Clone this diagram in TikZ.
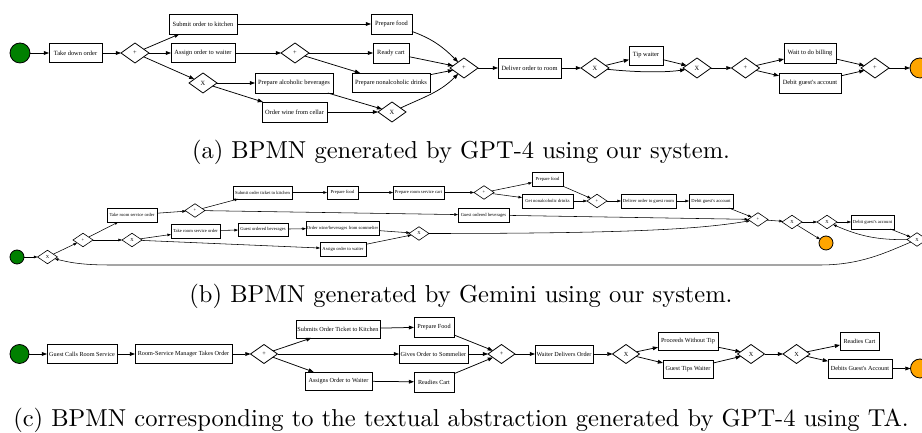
\documentclass[tikz,border=0pt]{standalone}
\usepackage{fontspec}
\newfontfamily\bpfont{Liberation Serif}
\usetikzlibrary{shapes.geometric,arrows.meta}
\definecolor{bpgreen}{HTML}{008000}
\definecolor{bporange}{HTML}{FFA500}
\begin{document}
\begin{tikzpicture}[x=1pt,y=1pt,
  every node/.style={inner sep=0pt, outer sep=0pt},
  task/.style 2 args={draw, line width=0.9pt, rectangle, fill=white, minimum width=#1pt, minimum height=#2pt, align=center},
  gwa/.style={draw, line width=0.8pt, diamond, fill=white, minimum width=28pt, minimum height=20pt},
  gwb/.style={draw, line width=0.6pt, diamond, fill=white, minimum width=20pt, minimum height=13.5pt},
  gwc/.style={draw, line width=0.8pt, diamond, fill=white, minimum width=27pt, minimum height=19pt},
  startev/.style={circle, draw, line width=0.8pt, fill=bpgreen, minimum size=#1},
  endev/.style={circle, draw, line width=0.8pt, fill=bporange, minimum size=#1},
  arrA/.style={draw, line width=0.75pt, -{Triangle[length=5.2pt,width=3.8pt]}},
  arrB/.style={draw, line width=0.55pt, -{Triangle[length=3.6pt,width=2.6pt]}},
  capt/.style={font=\normalsize}
]
\useasboundingbox (0,0) rectangle (922,433);
\fill[white] (0,0) rectangle (922,433);

% ---------------- (a)
\begin{scope}[every node/.append style={font=\bpfont\fontsize{6.4}{7}\selectfont}]
\node[startev=20pt] (sa) at (20,380) {};
\node[task={53}{19}] (tdo) at (75.5,380) {Take down order};
\node[gwa] (ag1) at (135,380) {+};
\node[task={68}{20}] (sok) at (203,409) {Submit order to kitchen};
\node[task={64}{19}] (aow) at (203,380) {Assign order to waiter};
\node[gwa] (ag2) at (295,380) {+};
\node[gwa] (ax1) at (203,350) {X};
\node[task={78}{20}] (pab) at (294,350) {Prepare alcoholic beverages};
\node[task={65}{20}] (owc) at (294.5,321) {Order wine from cellar};
\node[task={41}{20}] (pf) at (391.5,409) {Prepare food};
\node[task={36}{20}] (rc) at (391,380) {Ready cart};
\node[task={78}{19}] (pnd) at (391,350.5) {Prepare nonalcoholic drinks};
\node[gwa] (axj) at (392,321) {X};
\node[gwa] (agj) at (464,365) {+};
\node[task={63}{20}] (dor) at (529.5,365) {Deliver order to room};
\node[gwa] (axg1) at (595,365) {X};
\node[task={34}{19}] (tw) at (646,377.5) {Tip waiter};
\node[gwa] (axg2) at (697,365) {X};
\node[gwa] (agp) at (745.5,365) {+};
\node[task={52}{20}] (wtb) at (810,380) {Wait to do billing};
\node[task={62}{20}] (dga) at (810,350) {Debit guest's account};
\node[gwa] (agpj) at (875,365) {+};
\node[endev=20pt] (ea) at (920,365) {};

\draw[arrA] (sa) -- (tdo);
\draw[arrA] (tdo) -- (ag1);
\draw[arrA] (ag1) -- (sok);
\draw[arrA] (ag1) -- (aow);
\draw[arrA] (ag1) -- (ax1);
\draw[arrA] (sok) -- (pf);
\draw[arrA] (aow) -- (ag2);
\draw[arrA] (ag2) -- (rc);
\draw[arrA] (ag2) -- (pnd);
\draw[arrA] (ax1) -- (pab);
\draw[arrA] (ax1) -- (owc);
\draw[arrA] (pab) -- (axj);
\draw[arrA] (owc) -- (axj);
\draw[arrA] (pf) to[out=-20,in=135] (agj);
\draw[arrA] (rc) -- (agj);
\draw[arrA] (pnd) -- (agj);
\draw[arrA] (axj) to[out=25,in=-135] (agj);
\draw[arrA] (agj) -- (dor);
\draw[arrA] (dor) -- (axg1);
\draw[arrA] (axg1) -- (tw);
\draw[arrA] (axg1) to[out=-6,in=-172,looseness=0.8] (axg2);
\draw[arrA] (tw) -- (axg2);
\draw[arrA] (axg2) -- (agp);
\draw[arrA] (agp) -- (wtb);
\draw[arrA] (agp) -- (dga);
\draw[arrA] (wtb) -- (agpj);
\draw[arrA] (dga) -- (agpj);
\draw[arrA] (agpj) -- (ea);
\end{scope}

% ---------------- (b)
\begin{scope}[every node/.append style={font=\bpfont\fontsize{4.6}{5}\selectfont}]
\node[startev=14pt] (sb) at (17,176) {};
\node[gwb] (bx1) at (47.5,176) {X};
\node[gwb] (bp1) at (83,193) {+};
\node[task={50}{14}] (trso1) at (132,218) {Take room service order};
\node[gwb] (bp2) at (195,222.5) {+};
\node[task={59}{13}] (sotk) at (262.5,240.5) {Submit order ticket to kitchen};
\node[gwb] (bx2) at (132,193) {X};
\node[task={49}{14}] (trso2) at (195.5,202) {Take room service order};
\node[task={50}{13}] (gob1) at (263,203.5) {Guest ordered beverages};
\node[task={73}{14}] (owbs) at (342.5,205) {Order wine/beverages from sommelier};
\node[task={31}{13}] (pf1) at (342.5,240.5) {Prepare food};
\node[task={51}{13}] (prsc) at (418.5,240.5) {Prepare room service cart};
\node[gwb] (bp3) at (484,240.5) {+};
\node[task={31}{14}] (pf2) at (547.5,253.5) {Prepare food};
\node[task={51}{14}] (gnd) at (547.5,232) {Get nonalcoholic drinks};
\node[gwb] (bp4) at (597,232) {+};
\node[task={51}{14}] (gob2) at (483.5,218) {Guest ordered beverages};
\node[gwb] (bx3) at (419,199.5) {X};
\node[task={46}{14}] (aow2) at (343,184) {Assign order to waiter};
\node[task={55}{14}] (dogr) at (648.5,232) {Deliver order to guest room};
\node[task={44}{14}] (dga1) at (711,232) {Debit guest's account};
\node[gwb] (bp5) at (758,213.5) {+};
\node[gwb] (bx4) at (792,211) {X};
\node[gwb] (bx5) at (827,211) {X};
\node[task={43}{14}] (dga2) at (872.5,211) {Debit guest's account};
\node[gwb] (bx6) at (917,193.5) {X};
\node[endev=14pt] (eb) at (826,190) {};

\draw[arrB] (sb) -- (bx1);
\draw[arrB] (bx1) -- (bp1);
\draw[arrB] (bp1) -- (trso1);
\draw[arrB] (bp1) -- (bx2);
\draw[arrB] (trso1) -- (bp2);
\draw[arrB] (bp2) -- (sotk);
\draw[arrB] (bp2) -- (gob2);
\draw[arrB] (sotk) -- (pf1);
\draw[arrB] (pf1) -- (prsc);
\draw[arrB] (prsc) -- (bp3);
\draw[arrB] (bp3) -- (pf2);
\draw[arrB] (bp3) -- (gnd);
\draw[arrB] (pf2) -- (bp4);
\draw[arrB] (gnd) -- (bp4);
\draw[arrB] (bp4) -- (dogr);
\draw[arrB] (dogr) -- (dga1);
\draw[arrB] (dga1) -- (bp5);
\draw[arrB] (gob2) -- (bp5);
\draw[arrB] (bx2) -- (trso2);
\draw[arrB] (bx2) -- (aow2);
\draw[arrB] (trso2) -- (gob1);
\draw[arrB] (gob1) -- (owbs);
\draw[arrB] (owbs) -- (bx3);
\draw[arrB] (aow2) -- (bx3);
\draw[arrB] (bx3) .. controls (650,199.5) and (705,205) .. (bp5);
\draw[arrB] (bp5) -- (bx4);
\draw[arrB] (bx4) -- (bx5);
\draw[arrB] (bx4) -- (eb);
\draw[arrB] (bx5) -- (dga2);
\draw[arrB] (dga2) -- (bx6);
\draw[arrB] (bx6) to[bend left=12] (bx5);
\draw[arrB] (bx6) .. controls (885,180) and (860,168) .. (820,168) -- (110,168) .. controls (80,168) and (68,171) .. (bx1);
\end{scope}

% ---------------- (c)
\begin{scope}[every node/.append style={font=\bpfont\fontsize{6.2}{7}\selectfont}]
\node[startev=19pt] (sc) at (19.5,79) {};
\node[task={70}{19}] (gcrs) at (82,79) {Guest Calls Room Service};
\node[task={97}{19}] (rsmt) at (183.5,79) {Room-Service Manager Takes Order};
\node[gwc] (cp1) at (264,79) {+};
\node[task={84}{18}] (sotk3) at (338,104) {Submits Order Ticket to Kitchen};
\node[task={67}{18}] (aow3) at (338.5,52) {Assigns Order to Waiter};
\node[task={69}{18}] (gos) at (433.5,79) {Gives Order to Sommelier};
\node[task={40}{20}] (pf3) at (434,106) {Prepare Food};
\node[task={40}{20}] (rc3) at (434,51) {Readies Cart};
\node[gwc] (cpj) at (501.5,79) {+};
\node[task={58}{18}] (wdo) at (564,79) {Waiter Delivers Order};
\node[gwc] (cx1) at (626,79) {X};
\node[task={60}{18}] (pwt) at (688,92) {Proceeds Without Tip};
\node[task={50}{18}] (gtw) at (688,64) {Guest Tips Waiter};
\node[gwc] (cx2) at (751,79) {X};
\node[gwc] (cx3) at (796.5,79) {X};
\node[task={39}{18}] (rc4) at (859.5,92) {Readies Cart};
\node[task={64}{19}] (dgacc) at (860,64.5) {Debits Guest's Account};
\node[endev=19pt] (ec) at (920,64.5) {};

\draw[arrA] (sc) -- (gcrs);
\draw[arrA] (gcrs) -- (rsmt);
\draw[arrA] (rsmt) -- (cp1);
\draw[arrA] (cp1) -- (sotk3);
\draw[arrA] (cp1) -- (gos);
\draw[arrA] (cp1) -- (aow3);
\draw[arrA] (sotk3) -- (pf3);
\draw[arrA] (aow3) -- (rc3);
\draw[arrA] (pf3) -- (cpj);
\draw[arrA] (gos) -- (cpj);
\draw[arrA] (rc3) -- (cpj);
\draw[arrA] (cpj) -- (wdo);
\draw[arrA] (wdo) -- (cx1);
\draw[arrA] (cx1) -- (pwt);
\draw[arrA] (cx1) -- (gtw);
\draw[arrA] (pwt) -- (cx2);
\draw[arrA] (gtw) -- (cx2);
\draw[arrA] (cx2) -- (cx3);
\draw[arrA] (cx3) -- (rc4);
\draw[arrA] (cx3) -- (dgacc);
\draw[arrA] (dgacc) -- (ec);
\end{scope}

% ---------------- captions
\node[capt] (capa) at (461,281) {\scalebox{2.45}{(a) BPMN generated by GPT-4 using our system.}};
\node[capt] (capb) at (461,137) {\scalebox{2.45}{(b) BPMN generated by Gemini using our system.}};
\node[capt] (capc) at (461,13) {\scalebox{2.45}{(c) BPMN corresponding to the textual abstraction generated by GPT-4 using TA.}};
\end{tikzpicture}
\end{document}
